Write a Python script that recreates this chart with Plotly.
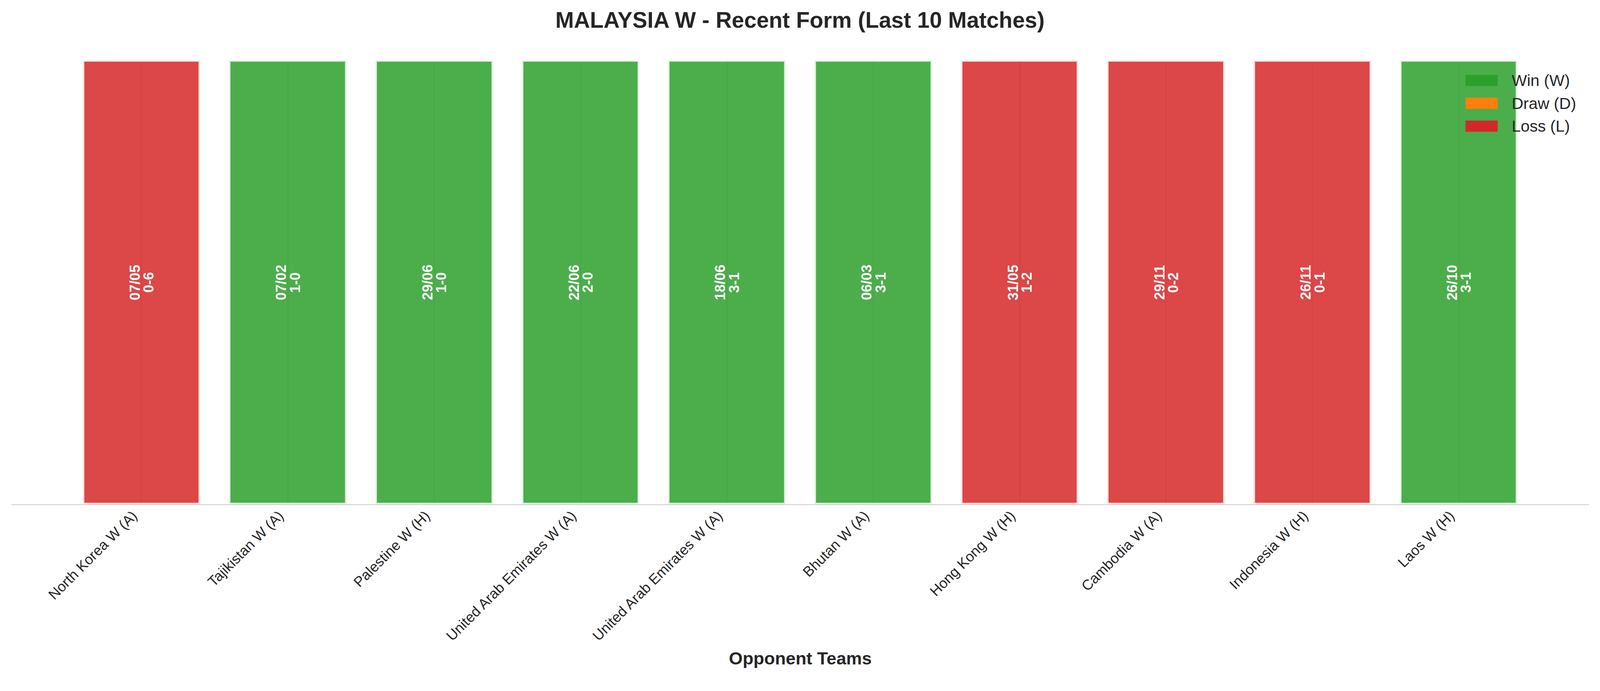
import plotly.graph_objects as go

# match data (most recent first)
opponents = ["North Korea W (A)", "Tajikistan W (A)", "Palestine W (H)",
             "United Arab Emirates W (A)", "United Arab Emirates W (A)", "Bhutan W (A)",
             "Hong Kong W (H)", "Cambodia W (A)", "Indonesia W (H)", "Laos W (H)"]
dates = ["07/05", "07/02", "29/06", "22/06", "18/06", "06/03", "31/05", "29/11", "26/11", "26/10"]
scores = ["0-6", "1-0", "1-0", "2-0", "3-1", "3-1", "1-2", "0-2", "0-1", "3-1"]
results = ["L", "W", "W", "W", "W", "W", "L", "L", "L", "W"]
bar_height = [1, 1, 1, 1, 1, 1, 1, 1, 1, 1]

legend_labels = ["Win (W)", "Draw (D)", "Loss (L)"]
legend_keys = ["W", "D", "L"]
colors = {"W": (44, 160, 44), "D": (255, 127, 14), "L": (214, 39, 40)}

# layout is worked out in picture pixels (4170 wide), then brought to css pixels
S = 4096 / 4170          # css px per picture px
BODY = 8                 # default page margin around the plot div
W = round(4096 - 2 * BODY)
H = round(1769 * S - 2 * BODY)


def sz(v):
    return v * S


def fx(v):
    return v * S - BODY


ML = fx(30)
MR = W - fx(4141)
MT = fx(158)
MB = H - fx(1314)
PW, PH = W - ML - MR, H - MT - MB
FONT = "Liberation Sans, Arial, sans-serif"
TXT = "#262626"


def rgba(c, a):
    return f"rgba({c[0]},{c[1]},{c[2]},{a})"


def px_to_paper(x, y):
    return (fx(x) - ML) / PW, (H - MB - fx(y)) / PH


x_pos = list(range(len(opponents)))

fig = go.Figure()
fig.add_trace(go.Bar(
    x=x_pos,
    y=bar_height,
    width=0.8,
    marker=dict(color=[rgba(colors[r], 0.85) for r in results],
                line=dict(color="rgba(255,255,255,0.8)", width=sz(7))),
    showlegend=False,
    hoverinfo="skip",
))

annotations = []
# date / score text inside each bar
for i, (d, s) in enumerate(zip(dates, scores)):
    for txt, shift in ((d, -18), (s, 18)):
        annotations.append(dict(
            x=i, y=0.5, xref="x", yref="y", text=txt, showarrow=False,
            textangle=-90, xshift=sz(shift),
            font=dict(family=FONT, size=sz(37), color="white", weight="bold"),
        ))

# hand-made legend (matplotlib style patches)
shapes = []
for k, (lab, key) in enumerate(zip(legend_labels, legend_keys)):
    cy = 210 + 59.5 * k
    x0, y0 = px_to_paper(3819, cy + 14.5)
    x1, y1 = px_to_paper(3903, cy - 14.5)
    shapes.append(dict(type="rect", xref="paper", yref="paper",
                       x0=x0, x1=x1, y0=y0, y1=y1,
                       fillcolor=rgba(colors[key], 1), line=dict(width=0)))
    tx, ty = px_to_paper(3937, cy)
    annotations.append(dict(x=tx, y=ty, xref="paper", yref="paper", text=lab,
                            showarrow=False, xanchor="left", yanchor="middle",
                            font=dict(family=FONT, size=sz(42), color=TXT)))

# x axis label
lx, ly = px_to_paper(2085, 1715)
annotations.append(dict(x=0.5, y=ly, xref="paper", yref="paper",
                        text="<b>Opponent Teams</b>", showarrow=False,
                        xanchor="center", yanchor="middle",
                        font=dict(family=FONT, size=sz(46), color=TXT)))

fig.update_layout(
    width=W, height=H,
    margin=dict(l=ML, r=MR, t=MT, b=MB),
    paper_bgcolor="white", plot_bgcolor="white",
    title=dict(text="<b>MALAYSIA W - Recent Form (Last 10 Matches)</b>",
               x=0.5, xanchor="center", y=1 - fx(52) / H, yanchor="middle",
               font=dict(family=FONT, size=sz(58), color=TXT)),
    showlegend=False,
    bargap=0,
    annotations=annotations,
    shapes=shapes,
)
fig.update_xaxes(
    range=[-0.89, 9.89],
    tickmode="array", tickvals=x_pos, ticktext=opponents,
    tickangle=-45, tickfont=dict(family=FONT, size=sz(37.5), color=TXT),
    ticklabelshift=-22, ticklabelstandoff=-9,
    showgrid=True, gridcolor="#cccccc", gridwidth=sz(2.3),
    zeroline=False, showline=True, linecolor="#cccccc", linewidth=sz(2.5),
    ticks="", automargin=False,
)
fig.update_yaxes(range=[0, 1], showgrid=False, zeroline=False,
                 showticklabels=False, showline=False, ticks="")

fig.write_html("out.html")
